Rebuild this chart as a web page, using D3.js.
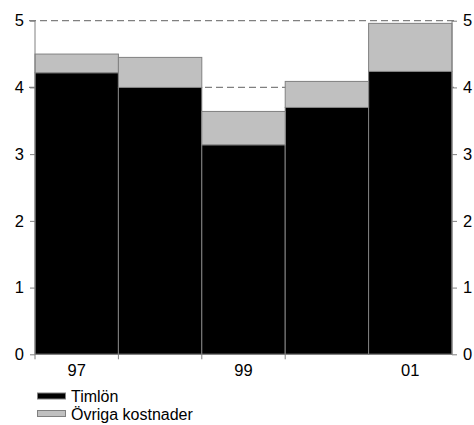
<!DOCTYPE html>
<html><head><meta charset="utf-8">
<script src="https://cdn.jsdelivr.net/npm/d3@7"></script>
<style>body{margin:0;background:#fff}svg{display:block;font-family:"Liberation Sans",Arial,sans-serif}</style>
</head><body>
<svg id="c" width="474" height="425"></svg>
<script>
const years = ["97","98","99","00","01"];
const shownLabels = ["97","99","01"];
const timlon = [4.22, 4.00, 3.14, 3.70, 4.24];
const ovriga = [0.28, 0.45, 0.50, 0.39, 0.72];
const yTicks = [0,1,2,3,4,5];
const gridValues = [4,5];
const seriesNames = ["Timlön","Övriga kostnader"];
const seriesColors = ["#000000","#c0c0c0"];

const svg = d3.select("#c");
const mLeft = 35, mRight = 452, mTop = 20.7, mBottom = 354.3;
const x = d3.scaleBand().domain(years).range([mLeft, mRight]).padding(0);
const y = d3.scaleLinear().domain([0,5]).range([mBottom, mTop]);
const axisCol = "#808080";

// gridlines
svg.append("g").selectAll("line").data(gridValues).join("line")
  .attr("x1", mLeft-6).attr("x2", mRight+4)
  .attr("y1", d=>y(d)).attr("y2", d=>y(d))
  .attr("stroke", axisCol).attr("stroke-width",1.3).attr("stroke-dasharray","7,4");

// bars
const data = years.map((k,i)=>({k, a:timlon[i], b:ovriga[i]}));
const g = svg.append("g");
g.selectAll("rect.a").data(data).join("rect").attr("class","a")
  .attr("x", d=>x(d.k)).attr("width", x.bandwidth())
  .attr("y", d=>y(d.a)).attr("height", d=>y(0)-y(d.a))
  .attr("fill", seriesColors[0]).attr("stroke", axisCol).attr("stroke-width",1);
g.selectAll("rect.b").data(data).join("rect").attr("class","b")
  .attr("x", d=>x(d.k)).attr("width", x.bandwidth())
  .attr("y", d=>y(d.a+d.b)).attr("height", d=>y(d.a)-y(d.a+d.b))
  .attr("fill", seriesColors[1]).attr("stroke", axisCol).attr("stroke-width",1);

// left axis
const la = svg.append("g").attr("transform",`translate(${mLeft},0)`)
  .call(d3.axisLeft(y).tickValues(yTicks).tickSize(5).tickPadding(6).tickFormat(d3.format("d")));
la.select(".domain").attr("stroke",axisCol).attr("d",`M0,${mTop}V${mBottom}`);
la.selectAll(".tick line").attr("stroke",axisCol);
la.selectAll("text").attr("font-size",16.5).attr("fill","#000").attr("font-family","Liberation Sans, Arial, sans-serif");

// right axis
const ra = svg.append("g").attr("transform",`translate(${mRight},0)`)
  .call(d3.axisRight(y).tickValues(yTicks).tickSize(5).tickPadding(6).tickFormat(d3.format("d")));
ra.select(".domain").attr("stroke",axisCol).attr("d",`M0,${mTop}V${mBottom}`);
ra.selectAll(".tick line").attr("stroke",axisCol);
ra.selectAll("text").attr("font-size",16.5).attr("fill","#000").attr("font-family","Liberation Sans, Arial, sans-serif");

// bottom axis
const ba = svg.append("g").attr("transform",`translate(0,${mBottom})`);
ba.append("line").attr("x1",mLeft).attr("x2",mRight).attr("stroke",axisCol);
const bounds = years.slice(0,-1).map(k=>x(k));
ba.selectAll("line.t").data(bounds).join("line").attr("class","t")
  .attr("x1",d=>d).attr("x2",d=>d).attr("y1",0).attr("y2",5).attr("stroke",axisCol);
ba.selectAll("text").data(shownLabels).join("text")
  .attr("x",d=>x(d)+x.bandwidth()/2).attr("y",21.5)
  .attr("text-anchor","middle").attr("font-size",16.5).text(d=>d);

// legend
const lg = svg.append("g");
seriesNames.forEach((n,i)=>{
  const yy = 392.5 + i*17.5;
  lg.append("rect").attr("x",37.5).attr("y",yy+0.5).attr("width",28).attr("height",6)
    .attr("fill",seriesColors[i]).attr("stroke",axisCol).attr("stroke-width",1);
  lg.append("text").attr("x",71).attr("y",yy+9.5).attr("font-size",16).text(n);
});
</script>
</body></html>
